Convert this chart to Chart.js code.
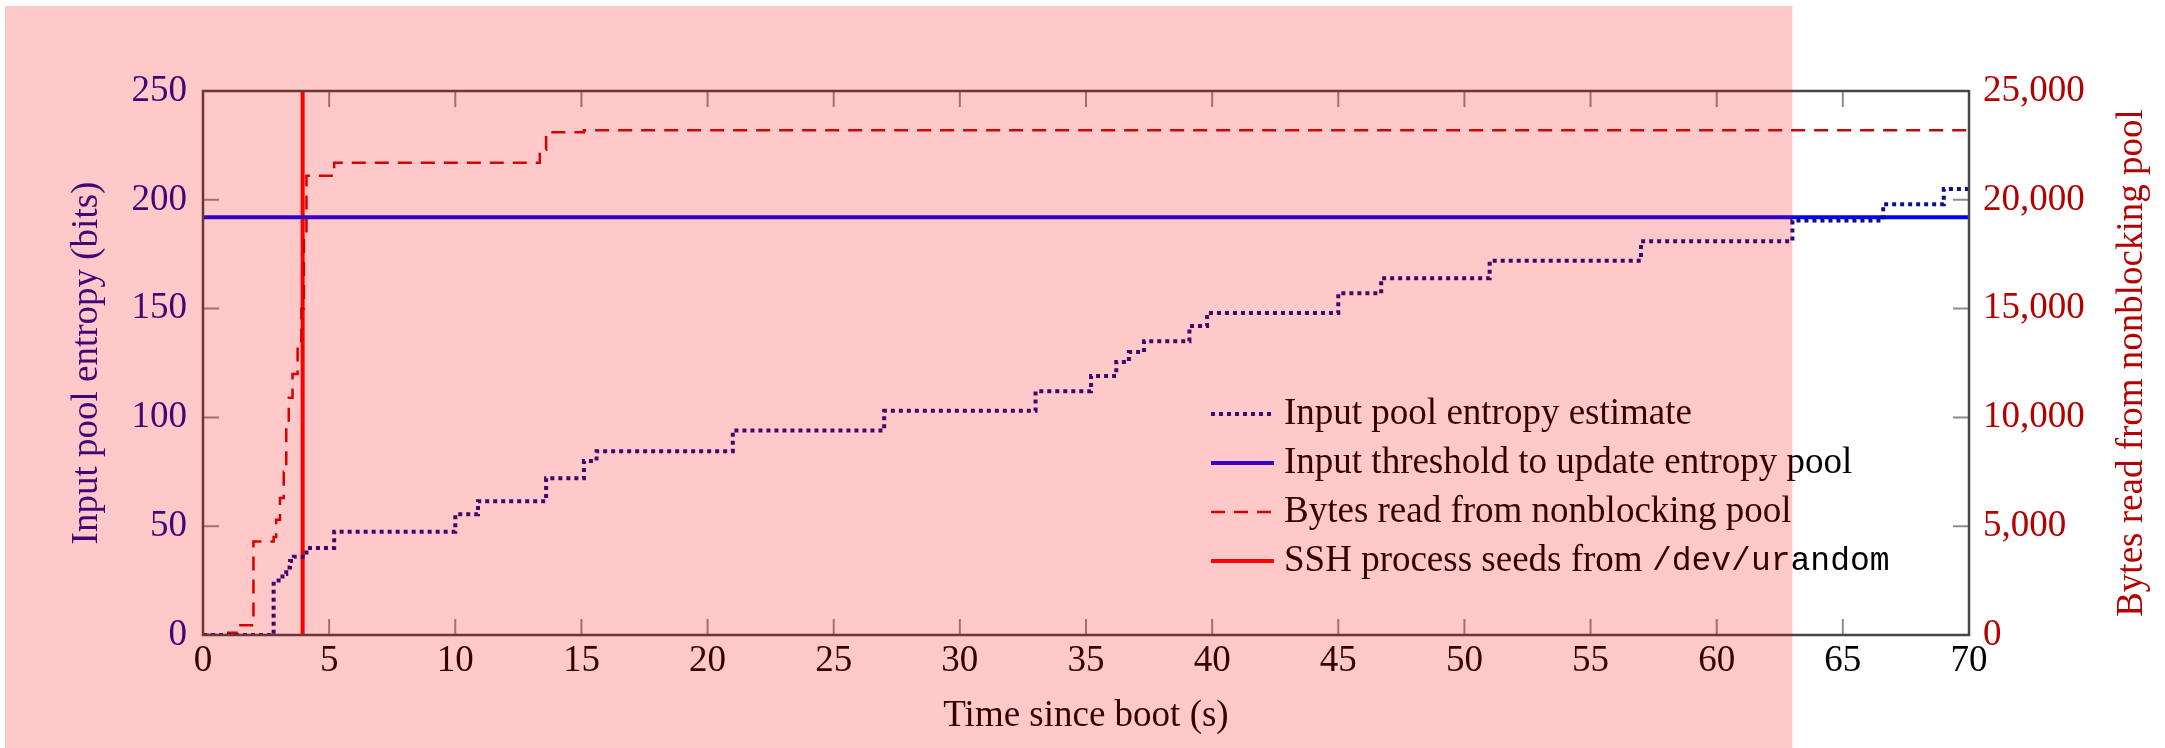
<!DOCTYPE html>
<html>
<head>
<meta charset="utf-8">
<script src="https://cdn.jsdelivr.net/npm/chart.js@4.4.1/dist/chart.umd.min.js"></script>
<style>
  html, body { margin: 0; padding: 0; background: #fff; }
</style>
</head>
<body>
<canvas id="entropyChart" width="2165" height="748"></canvas>
<script>
// step series: each point is the moment a new value starts (seconds since boot)
const entropyTime = [0, 2.8, 3.15, 3.3, 3.45, 3.6, 4.1, 5.2, 10.0, 10.9, 13.6, 15.1, 15.6, 21.0, 27.0, 33.0,
    35.2, 36.2, 36.7, 37.3, 39.1, 39.8, 45.0, 46.7, 51.0, 57.0, 63.0, 66.6, 69.0, 70];
const entropyBits = [0, 25, 28, 31, 34, 36, 40, 47.5, 55.5, 61.5, 72, 80, 84.5, 94, 103, 112,
    119, 125.5, 130, 135, 142, 148, 157, 164, 172, 181, 190.5, 198, 205, 205];

const bytesTime = [0, 1.0, 1.4, 2.0, 2.8, 2.9, 3.05, 3.2, 3.3, 3.4, 3.55, 3.75, 3.9, 4.0, 4.1, 5.2,
    13.35, 13.6, 15.1, 70];
const bytesRead = [0, 100, 450, 4300, 4500, 5300, 6300, 7500, 9700, 10900, 12000, 13300, 15000, 18500, 21100, 21700,
    22300, 23100, 23200, 23200];

const thresholdBits = 192;
const sshSeedTime = 3.95;
const highlightEnd = 63;  // pink highlight in the source image ends here

const timeTicks = [0, 5, 10, 15, 20, 25, 30, 35, 40, 45, 50, 55, 60, 65, 70];
const entropyTicks = [0, 50, 100, 150, 200, 250];
const bytesTicks = [0, 5000, 10000, 15000, 20000, 25000];

const legendLabels = [
    'Input pool entropy estimate',
    'Input threshold to update entropy pool',
    'Bytes read from nonblocking pool',
    'SSH process seeds from '
];
const legendMono = '/dev/urandom';

const serif = '"Liberation Serif", "Times New Roman", serif';
const mono = '"Liberation Mono", "DejaVu Sans Mono", monospace';

const colors = {
    entropy: 'rgb(15,10,135)',
    threshold: '#0000ff',
    bytes: 'rgb(204,0,0)',
    ssh: '#ff0000',
    leftText: 'rgb(15,10,150)',
    rightText: 'rgb(180,0,0)',
    frame: '#454545',
    tick: '#8c8c8c',
    highlight: 'rgba(255,0,0,0.21)'
};

const toPoints = (xs, ys) => xs.map((x, i) => ({ x: x, y: ys[i] }));
const setTicks = list => scale => { scale.ticks = list.map(v => ({ value: v })); };

// frame, inward ticks, right title, legend and the pink highlight
const decor = {
    id: 'decor',
    beforeDraw(chart) {
        const ctx = chart.ctx;
        ctx.save();
        ctx.fillStyle = '#fff';
        ctx.fillRect(0, 0, chart.width, chart.height);
        ctx.restore();
    },
    afterDraw(chart) {
        const ctx = chart.ctx;
        const a = chart.chartArea;
        const sx = chart.scales.x, sy = chart.scales.y, sy2 = chart.scales.y2;
        const tl = 16;
        ctx.save();

        ctx.strokeStyle = colors.tick;
        ctx.lineWidth = 2;
        ctx.beginPath();
        timeTicks.slice(1, -1).forEach(v => {
            const p = sx.getPixelForValue(v);
            ctx.moveTo(p, a.bottom); ctx.lineTo(p, a.bottom - tl);
            ctx.moveTo(p, a.top); ctx.lineTo(p, a.top + tl);
        });
        entropyTicks.slice(1, -1).forEach(v => {
            const p = sy.getPixelForValue(v);
            ctx.moveTo(a.left, p); ctx.lineTo(a.left + tl, p);
        });
        bytesTicks.slice(1, -1).forEach(v => {
            const p = sy2.getPixelForValue(v);
            ctx.moveTo(a.right, p); ctx.lineTo(a.right - tl, p);
        });
        ctx.stroke();

        ctx.strokeStyle = colors.frame;
        ctx.lineWidth = 2.5;
        ctx.strokeRect(a.left, a.top, a.right - a.left, a.bottom - a.top);

        // right axis title reads bottom to top
        ctx.save();
        ctx.translate(a.right + 173, (a.top + a.bottom) / 2);
        ctx.rotate(-Math.PI / 2);
        ctx.fillStyle = colors.rightText;
        ctx.font = '37px ' + serif;
        ctx.textAlign = 'center';
        ctx.textBaseline = 'alphabetic';
        ctx.fillText('Bytes read from nonblocking pool', 0, 0);
        ctx.restore();

        // legend
        const lx = a.right - 758;
        chart.data.datasets.forEach((ds, i) => {
            const y = a.bottom - 221 + i * 49;
            ctx.save();
            ctx.strokeStyle = ds.borderColor;
            ctx.lineWidth = ds.borderWidth;
            ctx.setLineDash(ds.borderDash || []);
            ctx.beginPath();
            ctx.moveTo(lx, y);
            ctx.lineTo(lx + 63, y);
            ctx.stroke();
            ctx.restore();

            ctx.fillStyle = '#000';
            ctx.textBaseline = 'middle';
            ctx.textAlign = 'left';
            ctx.font = '37px ' + serif;
            ctx.fillText(legendLabels[i], lx + 73, y);
            if (i === 3) {
                const w = ctx.measureText(legendLabels[i]).width;
                ctx.font = '33px ' + mono;
                ctx.fillText(legendMono, lx + 73 + w, y);
            }
        });

        const hx = sx.getPixelForValue(highlightEnd);
        ctx.fillStyle = colors.highlight;
        ctx.fillRect(5, 6, hx - 5, chart.height - 6);
        ctx.restore();
    }
};

new Chart(document.getElementById('entropyChart'), {
    type: 'line',
    data: {
        datasets: [
            {
                label: legendLabels[0],
                data: toPoints(entropyTime, entropyBits),
                yAxisID: 'y',
                stepped: true,
                borderColor: colors.entropy,
                borderWidth: 4,
                borderDash: [4, 4],
                pointRadius: 0,
                fill: false
            },
            {
                label: legendLabels[1],
                data: toPoints([timeTicks[0], timeTicks[timeTicks.length - 1]], [thresholdBits, thresholdBits]),
                yAxisID: 'y',
                borderColor: colors.threshold,
                borderWidth: 4,
                pointRadius: 0,
                fill: false
            },
            {
                label: legendLabels[2],
                data: toPoints(bytesTime, bytesRead),
                yAxisID: 'y2',
                stepped: true,
                borderColor: colors.bytes,
                borderWidth: 2.5,
                borderDash: [14, 9],
                pointRadius: 0,
                fill: false
            },
            {
                label: legendLabels[3] + legendMono,
                data: toPoints([sshSeedTime, sshSeedTime], [entropyTicks[0], entropyTicks[entropyTicks.length - 1]]),
                yAxisID: 'y',
                borderColor: colors.ssh,
                borderWidth: 4,
                pointRadius: 0,
                fill: false
            }
        ]
    },
    options: {
        responsive: false,
        devicePixelRatio: 1,
        animation: false,
        layout: { padding: { top: 91, left: 0, right: 0, bottom: 0 } },
        plugins: {
            legend: { display: false },
            tooltip: { enabled: false }
        },
        scales: {
            x: {
                type: 'linear',
                min: timeTicks[0],
                max: timeTicks[timeTicks.length - 1],
                afterBuildTicks: setTicks(timeTicks),
                afterFit: s => { s.height = 113; },
                grid: { display: false, drawTicks: false },
                border: { display: false },
                ticks: {
                    font: { family: serif, size: 37 },
                    color: '#000',
                    padding: 4,
                    maxRotation: 0,
                    autoSkip: false
                },
                title: {
                    display: true,
                    text: 'Time since boot (s)',
                    color: '#000',
                    font: { family: serif, size: 37 },
                    padding: { top: 0, bottom: 10 }
                }
            },
            y: {
                position: 'left',
                min: entropyTicks[0],
                max: entropyTicks[entropyTicks.length - 1],
                afterBuildTicks: setTicks(entropyTicks),
                afterFit: s => { s.width = 203; },
                grid: { display: false, drawTicks: false },
                border: { display: false },
                ticks: {
                    font: { family: serif, size: 37 },
                    color: colors.leftText,
                    padding: 16
                },
                title: {
                    display: true,
                    text: 'Input pool entropy (bits)',
                    color: colors.leftText,
                    font: { family: serif, size: 37 },
                    padding: { top: 65, bottom: 0 }
                }
            },
            y2: {
                position: 'right',
                min: bytesTicks[0],
                max: bytesTicks[bytesTicks.length - 1],
                afterBuildTicks: setTicks(bytesTicks),
                afterFit: s => { s.width = 196; },
                grid: { display: false, drawTicks: false },
                border: { display: false },
                ticks: {
                    font: { family: serif, size: 37 },
                    color: colors.rightText,
                    padding: 14,
                    callback: v => v.toLocaleString('en-US')
                }
            }
        }
    },
    plugins: [decor]
});
</script>
</body>
</html>
